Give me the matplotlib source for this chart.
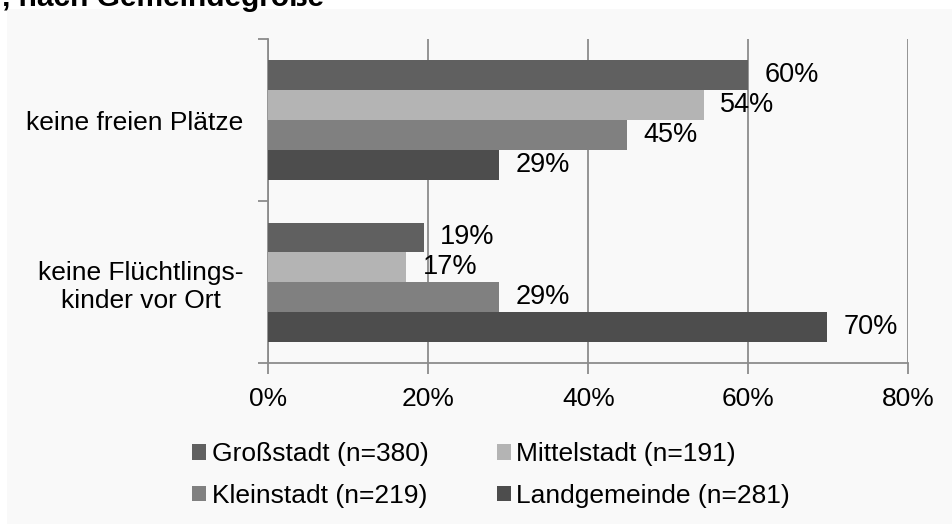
import matplotlib
matplotlib.use("Agg")
import matplotlib.pyplot as plt
from matplotlib.patches import Rectangle, Patch
import numpy as np

plt.rcParams['font.family'] = ['Liberation Sans', 'DejaVu Sans']

categories = ["keine freien Plätze", "keine Flüchtlings-\nkinder vor Ort"]
series_names = ["Großstadt (n=380)", "Mittelstadt (n=191)",
                "Kleinstadt (n=219)", "Landgemeinde (n=281)"]
values = {
    "Großstadt (n=380)":    [60.0, 19.4],
    "Mittelstadt (n=191)":  [54.4, 17.2],
    "Kleinstadt (n=219)":   [44.8, 28.8],
    "Landgemeinde (n=281)": [28.8, 69.8],
}
colors = ["#606060", "#b4b4b4", "#808080", "#4d4d4d"]
xticks = [0, 20, 40, 60, 80]
title_text = ", nach Gemeindegröße"

W, H = 952, 524
FS = 19
fig = plt.figure(figsize=(W / 100, H / 100), dpi=100)
fig.patch.set_facecolor("white")

# light panel background
fig.patches.append(Rectangle((7 / W, 0), 1 - 7 / W, 1 - 9 / H,
                             transform=fig.transFigure, facecolor="#f9f9f9",
                             edgecolor="none", zorder=-5))

fig.text(2 / W, 1 - 6.5 / H, title_text, fontsize=21.5, fontweight="bold",
         ha="left", va="baseline", color="black")

left, right, top, bottom = 268.3, 908.3, 39, 363.3
ax = fig.add_axes([left / W, 1 - bottom / H, (right - left) / W, (bottom - top) / H])
ax.set_facecolor("none")
ax.set_zorder(2)

h = 0.184
cat_pos = np.array([1.0, 0.0])  # first category on top
for i, (name, col) in enumerate(zip(series_names, colors)):
    offs = (1.5 - i) * h
    vals = values[name]
    bars = ax.barh(cat_pos + offs, vals, height=h, color=col,
                   edgecolor=col, linewidth=0, zorder=3, label=name)
    for b, v in zip(bars, vals):
        ax.annotate(f"{v:.0f}%", (b.get_width(), b.get_y() + b.get_height() / 2),
                    xytext=(12, 0), textcoords="offset points",
                    ha="left", va="center", fontsize=19.5, color="black", zorder=4)

ax.set_xlim(0, 80)
ax.set_ylim(-0.5, 1.5)
ax.set_xticks(xticks)
ax.set_xticklabels([f"{t}%" for t in xticks], fontsize=FS)
ax.xaxis.grid(True, color="#8c8c8c", linewidth=1.3, zorder=1)
ax.set_axisbelow(True)

ax.set_yticks([-0.5, 0.5, 1.5])
ax.set_yticklabels([])
ax.set_yticks(cat_pos, minor=True)
ax.set_yticklabels(categories, minor=True, fontsize=FS, multialignment="center")
ax.tick_params(axis="y", which="minor", length=0, pad=18)
ax.tick_params(axis="y", which="major", length=7, width=1.3, color="#8c8c8c")
ax.tick_params(axis="x", which="major", length=8, width=1.3, color="#8c8c8c", pad=9)

for s in ["top", "right"]:
    ax.spines[s].set_visible(False)
for s in ["left", "bottom"]:
    ax.spines[s].set_color("#8c8c8c")
    ax.spines[s].set_linewidth(1.3)

# legend filled row-wise: reorder for matplotlib's column-wise filling
order = [0, 2, 1, 3]
handles = [Patch(facecolor=colors[k], edgecolor="none") for k in order]
labels = [series_names[k] for k in order]
fig.legend(handles, labels, loc="upper left",
           bbox_to_anchor=(192 / W, 1 - 442 / H), ncol=2, frameon=False,
           fontsize=FS, handlelength=0.54, handleheight=0.54,
           handletextpad=0.2, columnspacing=2.6, labelspacing=0.68,
           borderpad=0, borderaxespad=0)

fig.savefig("out.png", dpi=100, facecolor=fig.get_facecolor())
